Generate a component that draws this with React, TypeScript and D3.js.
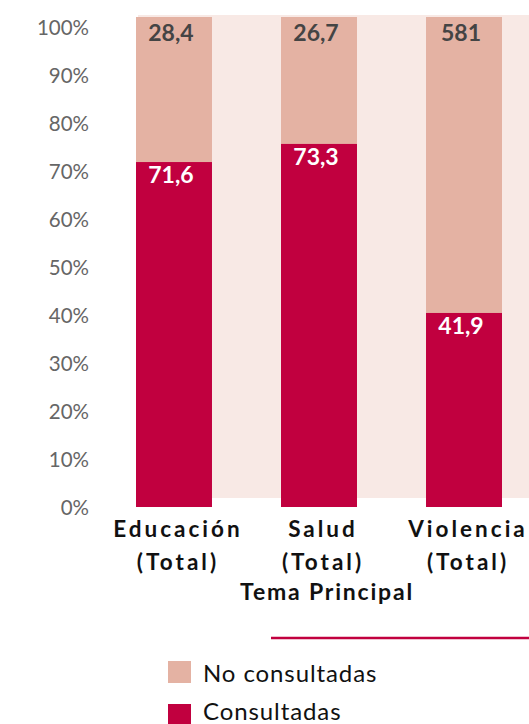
import React from "react";
import * as d3 from "d3";

const categories = ["Educación", "Salud", "Violencia"];
const categoryLine2 = ["(Total)", "(Total)", "(Total)"];
const consultadas = [70.4, 74.1, 39.6];
const consultadasLabels = ["71,6", "73,3", "41,9"];
const noConsultadasLabels = ["28,4", "26,7", "581"];
const yTicks = [0, 10, 20, 30, 40, 50, 60, 70, 80, 90, 100];
const axisTitle = "Tema Principal";
const legendItems = ["No consultadas", "Consultadas"];

const W = 529;
const H = 724;
const C_DARK = "#c1003f";
const C_LIGHT = "#e4b2a3";
const C_BG = "#f8e9e5";
const FONT = "Lato, 'Open Sans', sans-serif";

export default function App() {
  const x = d3.scaleBand<string>().domain(categories).range([136, 502]).paddingInner(0.476).paddingOuter(0);
  const yBar = d3.scaleLinear().domain([0, 100]).range([507, 17]);
  const yAxis = d3.scaleLinear().domain([0, 100]).range([515, 35]);
  const bw = x.bandwidth();

  return (
    <svg width={W} height={H} style={{ position: "absolute", left: 0, top: 0, fontFamily: FONT }}>
      <rect x={138} y={15} width={W - 138} height={498 - 15} fill={C_BG} />
      {yTicks.map((t) => (
        <text key={t} x={89} y={yAxis(t)} textAnchor="end" fontSize={20.5} fill="#666">
          {t}%
        </text>
      ))}
      {categories.map((c, i) => {
        const x0 = x(c)!;
        const cx = x0 + bw / 2;
        const v = consultadas[i];
        return (
          <g key={c}>
            <rect x={x0} y={yBar(100)} width={bw} height={yBar(v) - yBar(100)} fill={C_LIGHT} />
            <rect x={x0} y={yBar(v)} width={bw} height={yBar(0) - yBar(v)} fill={C_DARK} />
            <text x={cx - 3} y={yBar(100) + 24} textAnchor="middle" fontSize={23} fontWeight={700} fill="#444">
              {noConsultadasLabels[i]}
            </text>
            <text x={cx - 3} y={yBar(v) + 21} textAnchor="middle" fontSize={23} fontWeight={700} fill="#fff">
              {consultadasLabels[i]}
            </text>
            <text x={cx + 4} y={537} textAnchor="middle" fontSize={22.5} fontWeight={700} fill="#111" letterSpacing={3}>
              {c}
            </text>
            <text x={cx + 4} y={570} textAnchor="middle" fontSize={22.5} fontWeight={700} fill="#111" letterSpacing={3}>
              {categoryLine2[i]}
            </text>
          </g>
        );
      })}
      <text x={327} y={600} textAnchor="middle" fontSize={23} fontWeight={700} fill="#111" letterSpacing={1.8}>
        {axisTitle}
      </text>
      <line x1={271} x2={W} y1={638} y2={638} stroke={C_DARK} strokeWidth={2.5} />
      {legendItems.map((l, i) => (
        <g key={l}>
          <rect x={168} y={661 + i * 43} width={23} height={22} fill={i === 0 ? C_LIGHT : C_DARK} />
          <text x={203} y={682 + i * 38} fontSize={24} fill="#111" letterSpacing={0.9}>
            {l}
          </text>
        </g>
      ))}
    </svg>
  );
}
